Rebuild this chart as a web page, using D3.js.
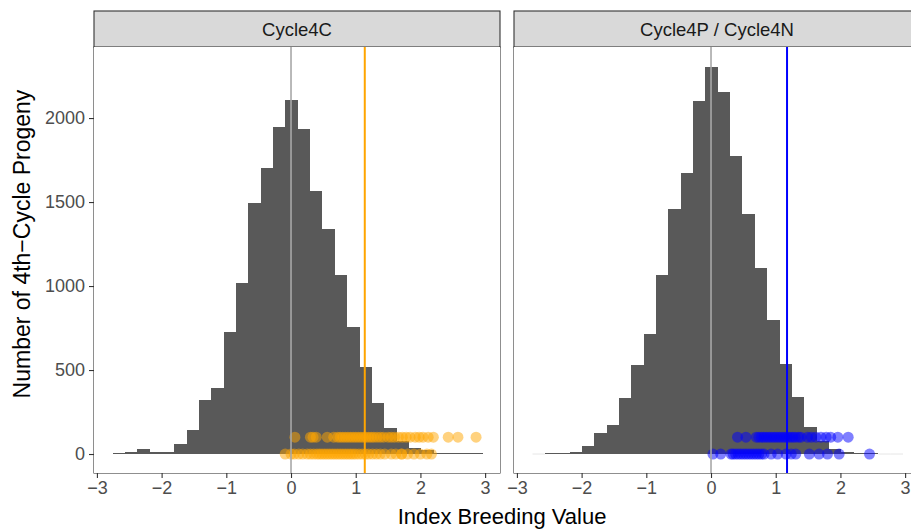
<!DOCTYPE html>
<html><head><meta charset="utf-8">
<script src="https://cdn.jsdelivr.net/npm/d3@7"></script>
<style>body{margin:0;background:#fff}svg{display:block}text{font-family:"Liberation Sans",Arial,sans-serif}</style>
</head><body><svg id="c" width="911" height="529"></svg>
<script>
// ---- data ----
const panelNames = ["Cycle4C", "Cycle4P / Cycle4N"];
const binStart = -2.759;
const binWidth = 0.1909;
const countsC  = [3, 14, 30, 14, 14, 60, 145, 323, 393, 724, 1018, 1492, 1704, 1948, 2107, 1932, 1567, 1339, 1065, 758, 516, 306, 155, 75, 38, 22, 5, 4, 3, 2];
const countsPN = [0, 3, 6, 14, 48, 125, 171, 333, 532, 714, 1063, 1458, 1675, 2103, 2302, 2157, 1776, 1429, 1105, 798, 534, 341, 163, 75, 28, 12, 5, 2, 0, 0];
const dotsCTop = [0.06, 0.30, 0.34, 0.39, 0.56, 0.66, 0.72, 0.76, 0.80, 0.84, 0.88, 0.92, 0.96, 1.00, 1.04, 1.08, 1.12, 1.16, 1.20, 1.24, 1.28, 1.33, 1.38, 1.43, 1.50, 1.55, 1.60, 1.66, 1.72, 1.78, 1.84, 1.92, 1.98, 2.04, 2.12, 2.20, 2.43, 2.58, 2.86];
const dotsCBottom = [-0.09, 0.00, 0.05, 0.12, 0.18, 0.25, 0.30, 0.35, 0.40, 0.44, 0.48, 0.52, 0.56, 0.60, 0.64, 0.68, 0.72, 0.76, 0.80, 0.84, 0.88, 0.92, 0.96, 1.00, 1.05, 1.10, 1.15, 1.20, 1.26, 1.32, 1.38, 1.45, 1.55, 1.62, 1.71, 1.71, 1.80, 1.90, 2.00, 2.10, 2.17];
const dotsPNTop = [0.41, 0.54, 0.70, 0.74, 0.78, 0.82, 0.86, 0.90, 0.94, 0.98, 1.02, 1.06, 1.10, 1.14, 1.18, 1.22, 1.26, 1.30, 1.35, 1.39, 1.49, 1.55, 1.62, 1.70, 1.78, 1.85, 1.96, 2.12];
const dotsPNBottom = [0.03, 0.15, 0.31, 0.34, 0.38, 0.42, 0.46, 0.50, 0.54, 0.58, 0.62, 0.66, 0.70, 0.74, 0.78, 0.82, 0.93, 1.03, 1.16, 1.24, 1.31, 1.52, 1.67, 1.80, 1.98, 2.45];
const dotRowLevels = [100, 0];
const cutoffs = [1.14, 1.175];
const xTicks = [-3, -2, -1, 0, 1, 2, 3];
const yTicks = [0, 500, 1000, 1500, 2000];
const xTitle = "Index Breeding Value";
const yTitle = "Number of 4th\u2212Cycle Progeny";

// ---- layout ----
const svg = d3.select("#c");
const panelW = 406, panelTop = 47, panelBottom = 473, stripTop = 11;
const panelLefts = [94, 514];
const colours = ["#FFA500", "#0000FF"];
const x = d3.scaleLinear().domain([-3.045, 3.23]).range([0, panelW]);
const y = d3.scaleLinear().domain([-113, 2423]).range([panelBottom, panelTop]);
const fmt = d3.format("d");

const panelData = [
  {name: panelNames[0], counts: countsC, top: dotsCTop, bottom: dotsCBottom, cut: cutoffs[0], col: colours[0]},
  {name: panelNames[1], counts: countsPN, top: dotsPNTop, bottom: dotsPNBottom, cut: cutoffs[1], col: colours[1]}
];

panelData.forEach((p, i) => {
  const g = svg.append("g").attr("transform", `translate(${panelLefts[i]},0)`);
  const clipId = "clip" + i;
  svg.append("clipPath").attr("id", clipId).append("rect")
     .attr("x", panelLefts[i]).attr("y", panelTop).attr("width", panelW).attr("height", panelBottom - panelTop);
  const inner = svg.append("g").attr("clip-path", `url(#${clipId})`)
     .append("g").attr("transform", `translate(${panelLefts[i]},0)`);
  inner.append("rect").attr("x", 0).attr("y", panelTop).attr("width", panelW).attr("height", panelBottom - panelTop).attr("fill", "#fff");

  const bins = p.counts.map((c, k) => ({x0: binStart + k * binWidth, x1: binStart + (k + 1) * binWidth, c}));
  inner.selectAll("line.zero").data(bins.filter(b => b.c === 0)).join("line")
    .attr("x1", b => x(b.x0)).attr("x2", b => x(b.x1)).attr("y1", y(0)).attr("y2", y(0))
    .attr("stroke", "#e6e6e6").attr("stroke-width", 1);
  inner.selectAll("rect.bar").data(bins.filter(b => b.c > 0)).join("rect")
    .attr("x", b => x(b.x0)).attr("width", b => x(b.x1) - x(b.x0))
    .attr("y", b => Math.min(y(b.c), y(0) - 1)).attr("height", b => Math.max(y(0) - y(b.c), 1))
    .attr("fill", "#595959").attr("shape-rendering", "crispEdges");

  const pts = p.top.map(v => ({v, lvl: dotRowLevels[0]})).concat(p.bottom.map(v => ({v, lvl: dotRowLevels[1]})));
  inner.selectAll("circle").data(pts).join("circle")
    .attr("cx", d => x(d.v)).attr("cy", d => y(d.lvl)).attr("r", 5.5)
    .attr("fill", p.col).attr("fill-opacity", 0.5);

  inner.append("line").attr("x1", x(0)).attr("x2", x(0)).attr("y1", panelTop).attr("y2", panelBottom)
    .attr("stroke", "#a8a8a8").attr("stroke-width", 1.6);
  inner.append("line").attr("x1", x(p.cut)).attr("x2", x(p.cut)).attr("y1", panelTop).attr("y2", panelBottom)
    .attr("stroke", p.col).attr("stroke-width", 2);

  g.append("rect").attr("x", 0).attr("y", panelTop).attr("width", panelW).attr("height", panelBottom - panelTop)
    .attr("fill", "none").attr("stroke", "#333").attr("stroke-width", 1.1);
  g.append("rect").attr("x", 0).attr("y", stripTop).attr("width", panelW).attr("height", panelTop - stripTop)
    .attr("fill", "#d9d9d9").attr("stroke", "#333").attr("stroke-width", 1.1);
  g.append("text").attr("x", panelW / 2).attr("y", (stripTop + panelTop) / 2 + 6.5)
    .attr("text-anchor", "middle").attr("font-size", 18.5).attr("fill", "#1a1a1a").text(p.name);

  const xa = g.append("g").attr("transform", `translate(0,${panelBottom})`)
    .call(d3.axisBottom(x).tickValues(xTicks).tickSize(5).tickPadding(3).tickFormat(fmt));
  xa.select(".domain").remove();
  xa.selectAll(".tick line").attr("stroke", "#333").attr("stroke-width", 1.1);
  xa.selectAll(".tick text").attr("font-size", 18).attr("fill", "#4d4d4d").attr("font-family", '"Liberation Sans",Arial,sans-serif');

  if (i === 0) {
    const ya = g.append("g").call(d3.axisLeft(y).tickValues(yTicks).tickSize(5).tickPadding(4).tickFormat(fmt));
    ya.select(".domain").remove();
    ya.selectAll(".tick line").attr("stroke", "#333").attr("stroke-width", 1.1);
    ya.selectAll(".tick text").attr("font-size", 18).attr("fill", "#4d4d4d").attr("font-family", '"Liberation Sans",Arial,sans-serif');
  }
});

svg.append("text").attr("x", 502).attr("y", 524).attr("text-anchor", "middle")
  .attr("font-size", 22).attr("fill", "#000").text(xTitle);
svg.append("text").attr("transform", "translate(30,244) rotate(-90)").attr("text-anchor", "middle")
  .attr("font-size", 23).attr("fill", "#000").text(yTitle);
</script>
</body></html>
